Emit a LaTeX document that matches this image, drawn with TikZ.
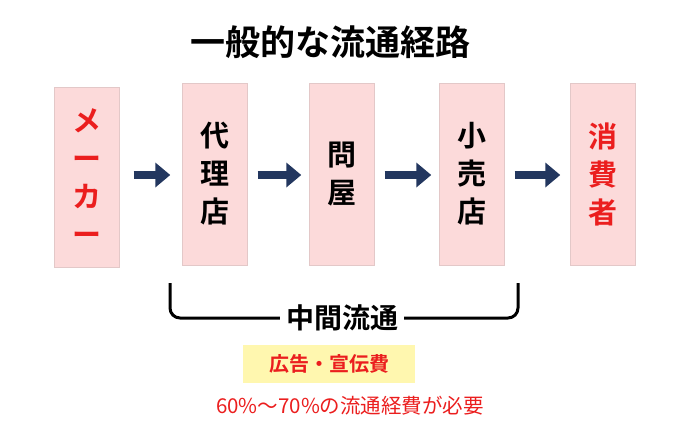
\documentclass[tikz,border=0pt]{standalone}
\usepackage{fontspec}
\usetikzlibrary{arrows.meta}
\newfontfamily\jp{Noto Sans CJK JP}[BoldFont={Noto Sans CJK JP Bold}]
\definecolor{boxpink}{RGB}{252,218,218}
\definecolor{myred}{RGB}{235,30,30}
\definecolor{navy}{RGB}{35,55,95}
\begin{document}
\begin{tikzpicture}[x=1pt,y=-1pt,
  box/.style={fill=boxpink,draw=boxpink!80!gray,line width=0.4pt,minimum width=65pt,inner sep=0pt,align=center,font=\jp\bfseries\fontsize{29}{38}\selectfont},
  arr/.style={-{Triangle[length=15pt,width=24pt]},line width=8pt,draw=navy}]
\useasboundingbox (0,0) rectangle (700,434);
\node[font=\jp\bfseries\fontsize{35}{38}\selectfont] (title) at (330,42) {一般的な流通経路};
\node[box,minimum height=180pt,text=myred] (m) at (87,177) {メ\\ー\\カ\\ー};
\node[box,minimum height=182pt] (d) at (215,174) {代\\理\\店};
\node[box,minimum height=182pt] (t) at (342,174) {問\\屋};
\node[box,minimum height=182pt] (k) at (472,174) {小\\売\\店};
\node[box,minimum height=182pt,text=myred] (s) at (603,174) {消\\費\\者};
\draw[arr] ([xshift=14pt]m.east|-0,175) -- ([xshift=-12pt]d.west|-0,175);
\draw[arr] ([xshift=10pt]d.east|-0,175) -- ([xshift=-8pt]t.west|-0,175);
\draw[arr] ([xshift=10pt]t.east|-0,175) -- ([xshift=-8pt]k.west|-0,175);
\draw[arr] ([xshift=10pt]k.east|-0,175) -- ([xshift=-10pt]s.west|-0,175);
\node[font=\jp\bfseries\fontsize{28}{30}\selectfont,inner xsep=6pt] (c) at (342,318) {中間流通};
\draw[line width=3pt,rounded corners=10pt] (170,283) -- (170,318) -- (c.west);
\draw[line width=3pt,rounded corners=10pt] (c.east) -- (518,318) -- (518,283);
\node[fill={rgb,255:red,255;green,247;blue,175},minimum width=172pt,minimum height=38pt,text=myred,font=\jp\bfseries\fontsize{20}{22}\selectfont] (y) at (329,364) {広告・宣伝費};
\node[text=myred,font=\jp\fontsize{20.5}{22}\selectfont] (n) at (350,406) {60\%〜70\%の流通経費が必要};
\end{tikzpicture}
\end{document}
